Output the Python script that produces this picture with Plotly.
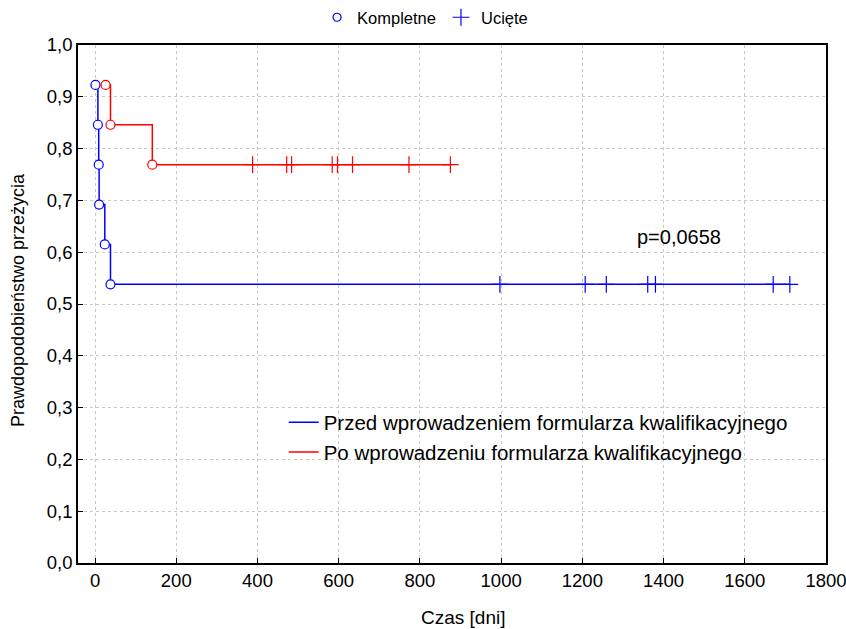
import plotly.graph_objects as go

# Before qualification form (blue)
blue_event_t = [1, 7, 9, 10, 24, 38]
blue_event_s = [0.923, 0.846, 0.769, 0.692, 0.615, 0.538]
blue_cens_t = [997, 1207, 1259, 1361, 1380, 1670, 1711]

# After qualification form (red)
red_event_t = [26, 38, 141]
red_event_s = [0.923, 0.846, 0.769]
red_cens_t = [388, 472, 484, 584, 597, 634, 773, 875]

x_ticks = [0, 200, 400, 600, 800, 1000, 1200, 1400, 1600, 1800]
y_ticks = [0.0, 0.1, 0.2, 0.3, 0.4, 0.5, 0.6, 0.7, 0.8, 0.9, 1.0]

BLUE = "#0000ff"
RED = "#ff0000"
FONT = "Liberation Sans, Arial, sans-serif"

fig = go.Figure()

def add_group(ev_t, ev_s, cens_t, color, name):
    xs = ev_t + [max(cens_t)]
    ys = ev_s + [ev_s[-1]]
    fig.add_trace(go.Scatter(x=xs, y=ys, mode="lines", line=dict(color=color, width=1.5, shape="hv"),
                             name=name, legend="legend", showlegend=True))
    fig.add_trace(go.Scatter(x=cens_t, y=[ev_s[-1]] * len(cens_t), mode="markers",
                             marker=dict(symbol="cross-thin", size=12, line=dict(color=color, width=1.2)),
                             showlegend=False))
    fig.add_trace(go.Scatter(x=ev_t, y=ev_s, mode="markers",
                             marker=dict(symbol="circle", size=9, color="white", line=dict(color=color, width=1.2)),
                             showlegend=False))

add_group(blue_event_t, blue_event_s, blue_cens_t, BLUE, "Przed wprowadzeniem formularza kwalifikacyjnego")
add_group(red_event_t, red_event_s, red_cens_t, RED, "Po wprowadzeniu formularza kwalifikacyjnego")

# Top legend entries
fig.add_trace(go.Scatter(x=[None], y=[None], mode="markers", name="Kompletne", legend="legend2",
                         marker=dict(symbol="circle-open", size=8, color=BLUE, line=dict(width=1.2))))
fig.add_trace(go.Scatter(x=[None], y=[None], mode="markers", name="Ucięte", legend="legend2",
                         marker=dict(symbol="cross-thin", size=12, color=BLUE, line=dict(color=BLUE, width=1.2))))

fig.add_annotation(x=1438, y=0.63, text="p=0,0658", showarrow=False,
                   font=dict(family=FONT, size=20, color="black"))

# Axis titles
fig.add_annotation(x=0.515, y=-0.106, xref="paper", yref="paper", text="Czas [dni]", showarrow=False,
                   xanchor="center", yanchor="middle", font=dict(family=FONT, size=19, color="black"))
fig.add_annotation(x=-0.080, y=0.508, xref="paper", yref="paper", text="Prawdopodobieństwo przeżycia",
                   showarrow=False, textangle=-90, xanchor="center", yanchor="middle",
                   font=dict(family=FONT, size=18, color="black"))

axis_common = dict(showline=True, linecolor="black", linewidth=1.5, mirror=True,
                   showgrid=True, gridcolor="#c8c8c8", griddash="dot", gridwidth=1,
                   ticks="inside", ticklen=5, tickcolor="black", zeroline=False,
                   ticklabeloverflow="allow",
                   tickfont=dict(family=FONT, size=18.5, color="black"))

fig.update_layout(
    width=846, height=629,
    margin=dict(l=78, r=20, t=45, b=66, autoexpand=False),
    paper_bgcolor="white", plot_bgcolor="white",
    separators=",.",
    font=dict(family=FONT, color="black"),
    xaxis=dict(range=[-42, 1800.01], tickvals=x_ticks, automargin=False, **axis_common),
    yaxis=dict(range=[0, 1.0], tickvals=y_ticks, tickformat=".1f", automargin=False, **axis_common),
    legend=dict(x=0.275, y=0.31, xanchor="left", yanchor="top", bgcolor="rgba(0,0,0,0)",
                font=dict(family=FONT, size=20.5, color="black"), tracegroupgap=0),
    legend2=dict(orientation="h", x=0.464, y=1.053, xanchor="center", yanchor="middle",
                 bgcolor="rgba(0,0,0,0)", font=dict(family=FONT, size=16.5, color="black")),
)

fig.write_html("out.html")
